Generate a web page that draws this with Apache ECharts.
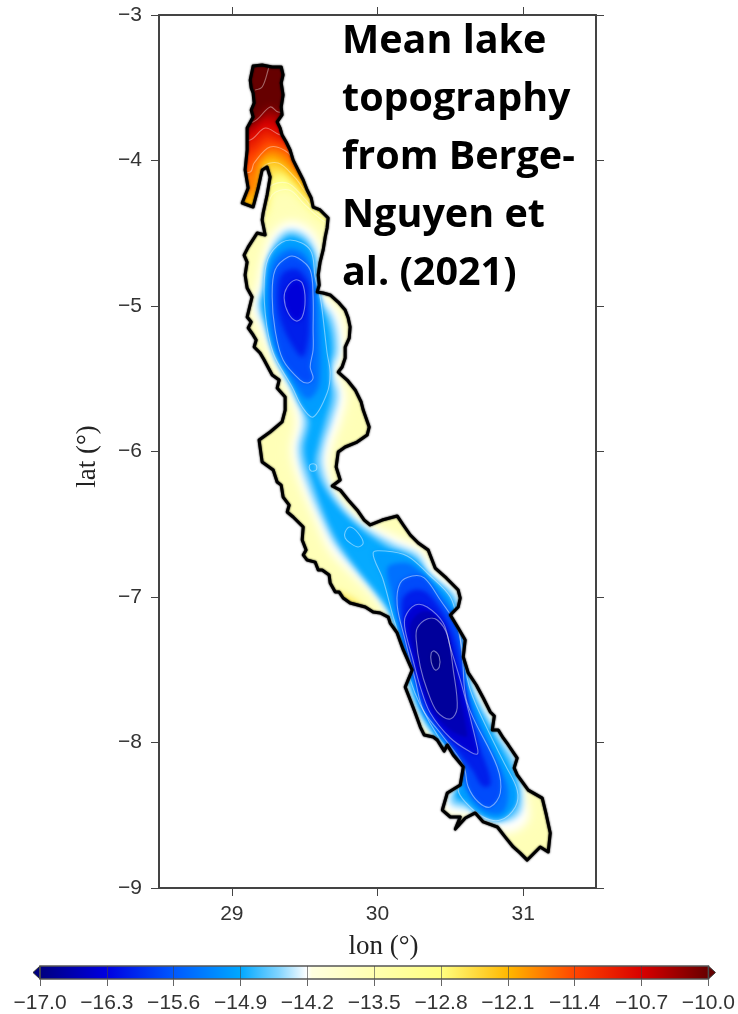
<!DOCTYPE html>
<html><head><meta charset="utf-8">
<style>html,body{margin:0;padding:0;background:#fff}#c{width:738px;height:1014px}</style>
<script src="https://cdn.jsdelivr.net/npm/echarts@6/dist/echarts.min.js"></script>
</head><body><div id="c"></div>
<script>
// ---- axes and text ----
const lonTicks = [29, 30, 31];
const latTicks = [-9, -8, -7, -6, -5, -4, -3];
const colorbarTicks = [-17.0, -16.3, -15.6, -14.9, -14.2, -13.5, -12.8, -12.1, -11.4, -10.7, -10.0];
const noteLines = ['Mean lake', 'topography', 'from Berge-', 'Nguyen et', 'al. (2021)'];
// ---- colour scale (lake level, m) ----
const paletteValues = [-17, -16.3, -15.6, -14.9, -14.5, -14.2, -14.15, -13.5, -12.8, -12.1, -11.4, -10.7, -10];
const paletteColors = ['#00007f', '#0000e0', '#0058ff', '#00a8ff', '#80d4ff', '#ffffff', '#ffffe0', '#ffffb0', '#ffff80', '#ffb800', '#ff4400', '#d80000', '#660000'];
// ---- lake shore, [lon, lat] ----
const lakeOutline = [[29.146,-3.351],[29.208,-3.344],[29.277,-3.357],[29.339,-3.357],[29.352,-3.412],[29.339,-3.467],[29.352,-3.550],[29.339,-3.632],[29.345,-3.687],[29.311,-3.735],[29.332,-3.777],[29.345,-3.825],[29.373,-3.873],[29.400,-3.928],[29.421,-3.997],[29.455,-4.065],[29.490,-4.134],[29.517,-4.203],[29.545,-4.258],[29.558,-4.320],[29.606,-4.340],[29.661,-4.395],[29.654,-4.464],[29.641,-4.526],[29.627,-4.615],[29.606,-4.698],[29.593,-4.787],[29.600,-4.856],[29.586,-4.904],[29.627,-4.911],[29.675,-4.924],[29.730,-4.973],[29.778,-5.028],[29.799,-5.083],[29.812,-5.144],[29.806,-5.220],[29.778,-5.282],[29.778,-5.357],[29.757,-5.419],[29.730,-5.454],[29.792,-5.509],[29.847,-5.577],[29.888,-5.660],[29.902,-5.715],[29.943,-5.832],[29.929,-5.887],[29.860,-5.935],[29.778,-5.969],[29.730,-6.004],[29.716,-6.107],[29.744,-6.196],[29.689,-6.237],[29.744,-6.265],[29.799,-6.333],[29.860,-6.402],[29.909,-6.471],[29.950,-6.505],[30.032,-6.471],[30.135,-6.443],[30.177,-6.505],[30.225,-6.574],[30.280,-6.629],[30.348,-6.677],[30.396,-6.801],[30.472,-6.869],[30.554,-6.952],[30.568,-7.007],[30.554,-7.069],[30.500,-7.124],[30.554,-7.213],[30.602,-7.296],[30.589,-7.412],[30.623,-7.522],[30.678,-7.605],[30.726,-7.694],[30.774,-7.790],[30.802,-7.818],[30.788,-7.914],[30.829,-7.914],[30.863,-7.969],[30.898,-8.017],[30.959,-8.107],[30.938,-8.175],[30.959,-8.223],[31.035,-8.327],[31.131,-8.382],[31.159,-8.498],[31.186,-8.622],[31.172,-8.753],[31.117,-8.718],[31.028,-8.808],[30.980,-8.760],[30.932,-8.718],[30.877,-8.650],[30.823,-8.581],[30.726,-8.546],[30.671,-8.484],[30.603,-8.519],[30.534,-8.595],[30.568,-8.512],[30.500,-8.512],[30.445,-8.464],[30.479,-8.347],[30.568,-8.292],[30.589,-8.168],[30.520,-8.086],[30.479,-8.017],[30.458,-8.059],[30.410,-7.983],[30.383,-7.962],[30.321,-7.949],[30.294,-7.894],[30.259,-7.797],[30.225,-7.708],[30.190,-7.619],[30.238,-7.502],[30.177,-7.364],[30.135,-7.247],[30.087,-7.179],[30.074,-7.138],[30.019,-7.110],[29.970,-7.103],[29.916,-7.069],[29.812,-7.041],[29.764,-7.007],[29.737,-6.966],[29.710,-6.966],[29.675,-6.904],[29.668,-6.849],[29.620,-6.815],[29.593,-6.815],[29.572,-6.760],[29.517,-6.746],[29.490,-6.711],[29.510,-6.677],[29.483,-6.608],[29.490,-6.519],[29.421,-6.450],[29.380,-6.416],[29.394,-6.368],[29.352,-6.313],[29.339,-6.231],[29.311,-6.210],[29.284,-6.127],[29.208,-6.072],[29.187,-5.921],[29.263,-5.866],[29.345,-5.797],[29.366,-5.715],[29.366,-5.625],[29.311,-5.564],[29.325,-5.509],[29.277,-5.474],[29.222,-5.371],[29.194,-5.323],[29.153,-5.282],[29.167,-5.234],[29.146,-5.199],[29.112,-5.151],[29.133,-5.110],[29.105,-5.076],[29.139,-4.938],[29.105,-4.876],[29.091,-4.787],[29.105,-4.698],[29.084,-4.650],[29.112,-4.595],[29.174,-4.498],[29.229,-4.512],[29.208,-4.409],[29.215,-4.361],[29.242,-4.237],[29.263,-4.113],[29.242,-4.045],[29.208,-4.065],[29.181,-4.189],[29.146,-4.320],[29.071,-4.292],[29.112,-4.189],[29.091,-4.065],[29.105,-3.928],[29.105,-3.777],[29.146,-3.701],[29.133,-3.653],[29.153,-3.605],[29.146,-3.536],[29.133,-3.502],[29.126,-3.447]];
// ---- shallow north end: iso-lines running across the lake ----
const north13_2 = [[28.954,-4.491],[29.194,-4.443],[29.277,-4.237],[29.394,-4.203],[29.503,-4.306],[29.641,-4.423],[29.778,-4.464]];
const north12_8 = [[28.954,-4.423],[29.208,-4.375],[29.263,-4.182],[29.380,-4.155],[29.490,-4.251],[29.606,-4.375],[29.778,-4.423]];
const north12_45 = [[28.954,-4.354],[29.208,-4.340],[29.249,-4.134],[29.345,-4.086],[29.462,-4.182],[29.572,-4.306],[29.778,-4.354]];
const north12_1 = [[28.954,-4.306],[29.160,-4.306],[29.208,-4.052],[29.318,-4.017],[29.435,-4.120],[29.551,-4.258],[29.778,-4.306]];
const north11_75 = [[28.954,-4.216],[29.160,-4.216],[29.194,-3.997],[29.277,-3.962],[29.400,-4.031],[29.503,-4.134],[29.778,-4.203]];
const north11_4 = [[28.954,-4.100],[29.126,-4.079],[29.153,-4.017],[29.263,-3.907],[29.387,-3.948],[29.469,-4.065],[29.778,-4.134]];
const north11_05 = [[28.954,-3.962],[29.126,-3.942],[29.242,-3.845],[29.352,-3.880],[29.778,-3.997]];
const north10_7 = [[28.954,-3.873],[29.126,-3.859],[29.229,-3.777],[29.332,-3.825],[29.778,-3.928]];
const north10_35 = [[28.954,-3.804],[29.126,-3.790],[29.208,-3.701],[29.332,-3.735],[29.778,-3.790]];
const north10_0 = [[28.954,-3.735],[29.146,-3.735],[29.263,-3.632],[29.318,-3.667],[29.778,-3.722]];
const north9_3 = [[29.160,-3.515],[29.208,-3.495],[29.249,-3.378],[29.263,-3.309]];
const northLatCap = -3.25;
const shoreSpot12_6 = [[29.710,-6.966],[29.812,-7.000],[29.895,-7.069],[29.812,-7.089],[29.710,-7.021]];
// ---- deep basins: closed iso-lines ----
const deep14_2 = [[29.400,-4.423],[29.551,-4.491],[29.627,-4.684],[29.620,-4.890],[29.744,-5.062],[29.778,-5.302],[29.730,-5.454],[29.778,-5.612],[29.744,-5.784],[29.682,-5.955],[29.661,-6.093],[29.716,-6.278],[29.895,-6.471],[30.121,-6.588],[30.294,-6.670],[30.403,-6.814],[30.568,-6.966],[30.582,-7.158],[30.637,-7.364],[30.671,-7.570],[30.843,-7.914],[30.980,-8.120],[31.021,-8.395],[31.028,-8.533],[30.911,-8.615],[30.774,-8.574],[30.637,-8.498],[30.500,-8.498],[30.438,-8.430],[30.479,-8.327],[30.568,-8.258],[30.568,-8.120],[30.362,-7.949],[30.225,-7.708],[30.156,-7.433],[30.101,-7.193],[29.984,-7.007],[29.812,-6.828],[29.675,-6.677],[29.586,-6.485],[29.469,-6.210],[29.414,-5.990],[29.448,-5.784],[29.380,-5.577],[29.277,-5.371],[29.194,-5.165],[29.139,-4.993],[29.181,-4.856],[29.208,-4.698],[29.277,-4.512]];
const deep14_5 = [[29.400,-4.478],[29.524,-4.533],[29.593,-4.698],[29.579,-4.904],[29.696,-5.083],[29.730,-5.302],[29.689,-5.454],[29.730,-5.612],[29.689,-5.784],[29.634,-5.955],[29.620,-6.093],[29.689,-6.278],[29.867,-6.485],[30.101,-6.629],[30.280,-6.711],[30.362,-6.849],[30.541,-7.000],[30.568,-7.193],[30.623,-7.399],[30.650,-7.605],[30.822,-7.935],[30.952,-8.141],[30.994,-8.381],[30.966,-8.498],[30.843,-8.546],[30.705,-8.498],[30.603,-8.450],[30.513,-8.430],[30.500,-8.361],[30.582,-8.292],[30.589,-8.120],[30.383,-7.949],[30.245,-7.708],[30.177,-7.433],[30.122,-7.193],[30.019,-7.021],[29.847,-6.815],[29.709,-6.643],[29.620,-6.471],[29.510,-6.210],[29.455,-5.990],[29.490,-5.784],[29.414,-5.577],[29.318,-5.371],[29.236,-5.165],[29.181,-4.993],[29.222,-4.856],[29.249,-4.698],[29.304,-4.546]];
const deep14_75 = [[29.400,-4.519],[29.503,-4.567],[29.558,-4.718],[29.551,-4.924],[29.654,-5.096],[29.689,-5.302],[29.648,-5.454],[29.682,-5.612],[29.641,-5.784],[29.593,-5.955],[29.572,-6.093],[29.641,-6.265],[29.812,-6.471],[30.074,-6.663],[30.259,-6.746],[30.348,-6.883],[30.500,-7.034],[30.541,-7.213],[30.596,-7.399],[30.623,-7.625],[30.795,-7.949],[30.918,-8.175],[30.946,-8.361],[30.877,-8.478],[30.774,-8.478],[30.637,-8.395],[30.554,-8.395],[30.534,-8.340],[30.609,-8.292],[30.609,-8.120],[30.403,-7.949],[30.266,-7.708],[30.197,-7.433],[30.142,-7.213],[30.053,-7.048],[29.881,-6.828],[29.744,-6.643],[29.654,-6.471],[29.551,-6.196],[29.497,-5.990],[29.531,-5.784],[29.448,-5.577],[29.352,-5.371],[29.263,-5.165],[29.208,-4.993],[29.249,-4.856],[29.277,-4.698],[29.332,-4.581]];
const northBasin14_9 = [[29.400,-4.546],[29.538,-4.615],[29.572,-4.801],[29.606,-4.938],[29.620,-5.028],[29.654,-5.323],[29.675,-5.460],[29.654,-5.598],[29.558,-5.763],[29.483,-5.694],[29.414,-5.557],[29.284,-5.323],[29.229,-5.048],[29.229,-4.753],[29.284,-4.615]];
const northBasin15_25 = [[29.393,-4.608],[29.497,-4.643],[29.551,-4.773],[29.586,-4.938],[29.600,-5.165],[29.606,-5.323],[29.606,-5.460],[29.593,-5.564],[29.531,-5.639],[29.476,-5.605],[29.387,-5.454],[29.291,-5.247],[29.256,-5.048],[29.256,-4.856],[29.291,-4.684]];
const northBasin15_6 = [[29.387,-4.663],[29.455,-4.670],[29.538,-4.753],[29.558,-4.938],[29.558,-5.165],[29.558,-5.302],[29.538,-5.419],[29.558,-5.495],[29.524,-5.529],[29.469,-5.509],[29.352,-5.371],[29.297,-5.165],[29.277,-4.938],[29.297,-4.753]];
const northBasin15_95 = [[29.414,-4.746],[29.469,-4.759],[29.531,-4.856],[29.531,-4.959],[29.531,-5.165],[29.510,-5.302],[29.483,-5.350],[29.435,-5.302],[29.359,-5.165],[29.318,-5.028],[29.318,-4.856],[29.352,-4.773]];
const northBasin16_3 = [[29.435,-4.821],[29.483,-4.842],[29.503,-4.959],[29.483,-5.076],[29.442,-5.103],[29.387,-5.048],[29.359,-4.945],[29.380,-4.869]];
const southBasin14_9 = [[29.970,-6.698],[30.053,-6.684],[30.204,-6.718],[30.348,-6.842],[30.500,-7.000],[30.554,-7.193],[30.582,-7.364],[30.637,-7.639],[30.774,-7.949],[30.877,-8.155],[30.959,-8.327],[30.946,-8.443],[30.843,-8.533],[30.726,-8.512],[30.603,-8.409],[30.554,-8.327],[30.582,-8.189],[30.431,-7.983],[30.294,-7.742],[30.225,-7.570],[30.190,-7.399],[30.108,-7.138],[30.039,-6.883]];
const southBasin15_25 = [[30.067,-6.801],[30.142,-6.766],[30.238,-6.780],[30.389,-6.931],[30.520,-7.103],[30.568,-7.302],[30.602,-7.570],[30.733,-7.949],[30.850,-8.189],[30.898,-8.340],[30.863,-8.478],[30.760,-8.485],[30.650,-8.395],[30.575,-8.244],[30.506,-8.052],[30.369,-7.859],[30.280,-7.660],[30.218,-7.433],[30.149,-7.193],[30.101,-6.986]];
const southBasin15_6 = [[30.156,-6.904],[30.238,-6.856],[30.321,-6.869],[30.431,-7.021],[30.547,-7.206],[30.582,-7.412],[30.616,-7.729],[30.822,-8.168],[30.843,-8.347],[30.774,-8.443],[30.692,-8.409],[30.623,-8.306],[30.589,-8.155],[30.431,-7.935],[30.314,-7.777],[30.259,-7.570],[30.190,-7.296],[30.135,-7.055]];
const southBasin15_95 = [[30.170,-7.021],[30.245,-6.952],[30.334,-6.966],[30.444,-7.103],[30.527,-7.275],[30.582,-7.515],[30.657,-7.914],[30.760,-8.189],[30.774,-8.292],[30.719,-8.299],[30.650,-8.189],[30.541,-8.052],[30.403,-7.859],[30.300,-7.674],[30.245,-7.467],[30.190,-7.261]];
const southBasin16_3 = [[30.190,-7.138],[30.259,-7.055],[30.341,-7.069],[30.451,-7.179],[30.500,-7.344],[30.582,-7.619],[30.685,-8.031],[30.685,-8.079],[30.637,-8.065],[30.500,-7.969],[30.362,-7.797],[30.294,-7.619],[30.238,-7.412],[30.190,-7.227]];
const southBasin16_5 = [[30.231,-7.172],[30.300,-7.103],[30.376,-7.110],[30.465,-7.220],[30.506,-7.350],[30.554,-7.625],[30.616,-7.949],[30.602,-7.962],[30.500,-7.914],[30.389,-7.790],[30.314,-7.625],[30.266,-7.433],[30.225,-7.261]];
const southBasin16_7 = [[30.273,-7.213],[30.341,-7.151],[30.410,-7.158],[30.479,-7.261],[30.520,-7.502],[30.547,-7.763],[30.500,-7.839],[30.410,-7.790],[30.341,-7.639],[30.294,-7.481],[30.266,-7.296]];
const southBasin17_0 = [[30.390,-7.371],[30.424,-7.412],[30.424,-7.481],[30.397,-7.502],[30.369,-7.447],[30.369,-7.385]];
const channelRing14_9 = [[29.545,-6.086],[29.579,-6.093],[29.579,-6.127],[29.545,-6.134],[29.531,-6.107]];
const kigomaRing14_9 = [[29.778,-6.553],[29.812,-6.519],[29.867,-6.560],[29.902,-6.629],[29.867,-6.656],[29.812,-6.629],[29.778,-6.595]];

const lakeBaseLevel = -13.6;
// [level, shape, softness]: painted in this order, shallow to deep
const northStack = [[-13.2,north13_2,10],[-12.8,north12_8,10],[-12.45,north12_45,9],[-12.1,north12_1,9],[-11.75,north11_75,9],[-11.4,north11_4,9],[-11.05,north11_05,8],[-10.7,north10_7,8],[-10.35,north10_35,8],[-10.0,north10_0,8]];
const deepStack = [[-12.6,shoreSpot12_6,7],[-13.95,deep14_2,18],[-14.2,deep14_2,8],[-14.55,deep14_5,6],[-14.88,deep14_75,5],[-15.0,northBasin14_9,5],[-15.0,southBasin14_9,5],[-14.95,kigomaRing14_9,4],[-15.38,northBasin15_25,5],[-15.38,southBasin15_25,4],[-15.7,northBasin15_6,5],[-15.7,southBasin15_6,4],[-16.05,northBasin15_95,5],[-16.05,southBasin15_95,4],[-16.35,northBasin16_3,5],[-16.4,southBasin16_3,4],[-16.6,southBasin16_5,3],[-16.8,southBasin16_7,3],[-17.0,southBasin17_0,3]];
const contourRings = [northBasin14_9,northBasin15_6,northBasin16_3,southBasin14_9,southBasin15_6,southBasin16_3,southBasin16_7,southBasin17_0,channelRing14_9,kigomaRing14_9];
const contourLines = [north13_2,north12_8,north12_1,north11_4,north10_7,north10_0,north9_3];

function hex(c){return [1,3,5].map(i=>parseInt(c.substr(i,2),16));}
function colorOf(v){
  if(v<=paletteValues[0])return paletteColors[0];
  for(let i=1;i<paletteValues.length;i++){
    if(v<=paletteValues[i]){
      const t=(v-paletteValues[i-1])/(paletteValues[i]-paletteValues[i-1]);
      const a=hex(paletteColors[i-1]),b=hex(paletteColors[i]);
      return 'rgb('+a.map((x,k)=>Math.round(x+(b[k]-x)*t)).join(',')+')';
    }
  }
  return paletteColors[paletteColors.length-1];
}
const lonRange=[28.5,31.5], latRange=[-9,-3];
const minus=s=>String(s).replace('-','\u2212');

const fillLayers=[{level:lakeBaseLevel,pts:lakeOutline,blur:0}];
northStack.forEach(([lv,c,b])=>{
  fillLayers.push({level:lv,blur:b,pts:c.concat([[c[c.length-1][0],northLatCap],[c[0][0],northLatCap]])});
});
deepStack.forEach(([lv,p,b])=>fillLayers.push({level:lv,pts:p,blur:b}));

const maskPts=[[lonRange[0],latRange[1]],[lonRange[1],latRange[1]],[lonRange[1],latRange[0]],[lonRange[0],latRange[0]],[lonRange[0],latRange[1]],[lakeOutline[0][0],latRange[1]],lakeOutline[0]]
  .concat(lakeOutline.slice(1).reverse()).concat([lakeOutline[0],[lakeOutline[0][0],latRange[1]]]);

const axisCol='#444';
const axisBase={type:'value',splitLine:{show:false},z:10,silent:true};
function frameAxis(o){return Object.assign({},axisBase,{axisLine:{show:true,onZero:false,lineStyle:{color:axisCol,width:2}},axisTick:{show:true,length:8,lineStyle:{color:axisCol,width:1}}},o);}
const tickFont={color:'#333',fontFamily:'Liberation Sans',fontSize:21};
const nameFont={color:'#222',fontFamily:'Liberation Serif',fontSize:27};
const offCanvas=3000; // the polygon itself sits off the canvas; only its soft shadow lands on the map
const common={type:'custom',silent:true,animation:false,progressive:0,clip:false,xAxisIndex:0,yAxisIndex:0};
const chart=echarts.init(document.getElementById('c'),null,{renderer:'canvas'});
chart.setOption({
  animation:false,backgroundColor:'#fff',
  title:{text:noteLines.join('\n'),left:337,top:8,z:20,textStyle:{fontFamily:'Open Sans',fontWeight:'bold',fontSize:39.5,lineHeight:58,color:'#000'}},
  grid:[{left:159,right:142,top:15,height:873},{left:40,width:669,top:966,height:13}],
  xAxis:[
    frameAxis({min:lonRange[0],max:lonRange[1],position:'bottom',gridIndex:0,name:'lon (\u00b0)',nameLocation:'middle',nameGap:45,nameTextStyle:Object.assign({padding:[0,0,0,12]},nameFont),
      axisTick:{show:true,length:8,customValues:lonTicks,lineStyle:{color:axisCol,width:1}},
      axisLabel:{customValues:lonTicks,margin:16,formatter:v=>minus(v),...tickFont}}),
    frameAxis({min:lonRange[0],max:lonRange[1],position:'top',gridIndex:0,
      axisTick:{show:true,length:8,customValues:lonTicks,lineStyle:{color:axisCol,width:1}},axisLabel:{show:false}}),
    {type:'value',gridIndex:1,min:-17,max:-10,position:'bottom',z:10,silent:true,axisLine:{show:false},
      axisTick:{show:true,length:7,customValues:colorbarTicks,lineStyle:{color:'#666',width:1}},
      splitLine:{show:true,lineStyle:{color:'#444',width:1,opacity:.6}},
      axisLabel:{customValues:colorbarTicks,margin:14,hideOverlap:false,formatter:v=>minus(v.toFixed(1)),...tickFont}}
  ],
  yAxis:[
    frameAxis({min:latRange[0],max:latRange[1],interval:1,position:'left',gridIndex:0,name:'lat (\u00b0)',nameLocation:'middle',nameGap:58,nameTextStyle:Object.assign({padding:[0,10,0,0]},nameFont),
      axisLabel:{margin:17,formatter:v=>minus(v),...tickFont}}),
    frameAxis({min:latRange[0],max:latRange[1],interval:1,position:'right',gridIndex:0,axisLabel:{show:false}}),
    {type:'value',gridIndex:1,min:0,max:1,show:false}
  ],
  series:[
    Object.assign({},common,{z:2,data:fillLayers.map(l=>[l.pts[0][0],l.pts[0][1],l.level]),
      renderItem:(p,api)=>{const l=fillLayers[p.dataIndex],col=colorOf(l.level),pts=l.pts.map(q=>api.coord(q));
        if(!l.blur) return {type:'polygon',shape:{points:pts},style:{fill:col}};
        return {type:'polygon',x:-offCanvas,shape:{points:pts,smooth:0.35},
          style:{fill:col,shadowBlur:l.blur,shadowColor:col,shadowOffsetX:offCanvas}};}}),
    Object.assign({},common,{z:3,data:contourRings.map(r=>r[0]),
      renderItem:(p,api)=>({type:'polygon',shape:{points:contourRings[p.dataIndex].map(q=>api.coord(q)),smooth:0.35},
        style:{fill:'none',stroke:'rgba(255,255,255,0.45)',lineWidth:1.1}})}),
    Object.assign({},common,{z:3,data:contourLines.map(r=>r[0]),
      renderItem:(p,api)=>({type:'polyline',shape:{points:contourLines[p.dataIndex].map(q=>api.coord(q)),smooth:0.35},
        style:{fill:'none',stroke:'rgba(255,255,255,0.4)',lineWidth:1.1}})}),
    Object.assign({},common,{z:4,data:[maskPts[0]],
      renderItem:(p,api)=>({type:'polygon',shape:{points:maskPts.map(q=>api.coord(q))},style:{fill:'#fff'}})}),
    Object.assign({},common,{z:5,data:[lakeOutline[0]],
      renderItem:(p,api)=>({type:'polygon',shape:{points:lakeOutline.map(q=>api.coord(q))},
        style:{fill:'none',stroke:'#000',lineWidth:3,lineJoin:'round',shadowBlur:2,shadowColor:'#000'}})}),
    // colour bar
    Object.assign({},common,{xAxisIndex:2,yAxisIndex:2,z:2,data:[[-17,0]],
      renderItem:(p,api)=>{
        const a=api.coord([-17,1]),b=api.coord([-10,0]),m=(a[1]+b[1])/2;
        const stops=paletteValues.map((v,i)=>({offset:(v+17)/7,color:paletteColors[i]}));
        return {type:'group',children:[
          {type:'polygon',shape:{points:[[a[0],a[1]],[a[0]-7,m],[a[0],b[1]]]},style:{fill:paletteColors[0],stroke:'#333',lineWidth:1}},
          {type:'polygon',shape:{points:[[b[0],a[1]],[b[0]+7,m],[b[0],b[1]]]},style:{fill:paletteColors[paletteColors.length-1],stroke:'#333',lineWidth:1}},
          {type:'rect',shape:{x:a[0],y:a[1],width:b[0]-a[0],height:b[1]-a[1]},
           style:{fill:{type:'linear',x:0,y:0,x2:1,y2:0,colorStops:stops},stroke:'#555',lineWidth:1.5}}
        ]};}})
  ]
});
</script></body></html>
